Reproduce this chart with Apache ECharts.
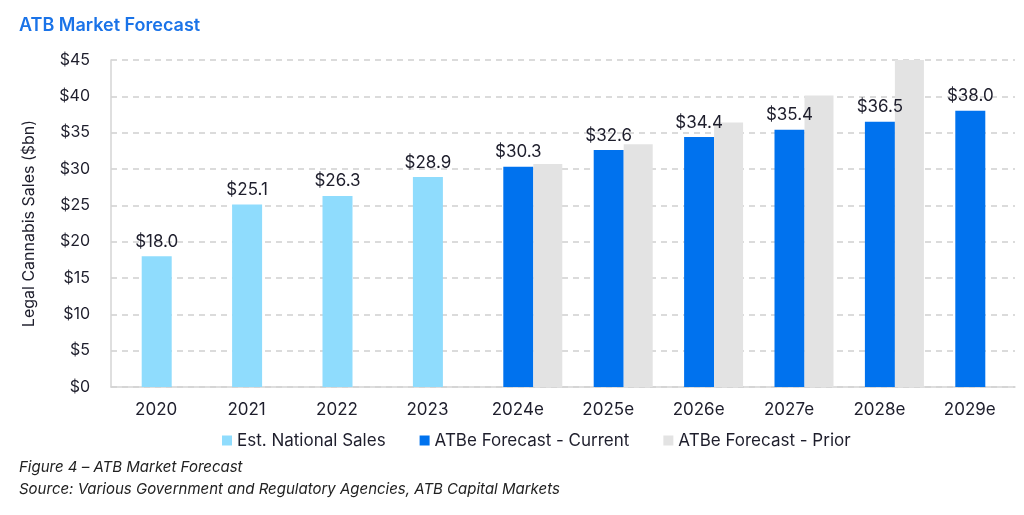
<!DOCTYPE html>
<html>
<head>
<meta charset="utf-8">
<script src="https://cdn.jsdelivr.net/npm/echarts@6/dist/echarts.min.js"></script>
<style>html,body{margin:0;padding:0;background:#fff}#c{width:1024px;height:515px}</style>
</head>
<body>
<div id="c"></div>
<script>
const categories = ['2020','2021','2022','2023','2024e','2025e','2026e','2027e','2028e','2029e'];
const estNational = [18.0, 25.1, 26.3, 28.9, null, null, null, null, null, null];
const forecastCurrent = [null, null, null, null, 30.3, 32.6, 34.4, 35.4, 36.5, 38.0];
const forecastPrior = [null, null, null, null, 30.7, 33.4, 36.4, 40.1, 45.3, null];
const yTicks = [0, 5, 10, 15, 20, 25, 30, 35, 40, 45];

const FONT = 'Inter, "Noto Sans", sans-serif';
const TXT = '#1e1e2c';
const chart = echarts.init(document.getElementById('c'), null, {renderer: 'canvas'});
const lbl = {show: true, position: 'top', distance: 6, color: TXT, fontSize: 17, fontFamily: FONT,
  formatter: p => (p.value == null ? '' : '$' + Number(p.value).toFixed(1))};
chart.setOption({
  animation: false,
  textStyle: {fontFamily: FONT},
  title: [
    {text: 'ATB Market Forecast', left: 14, top: 12, textStyle: {color: '#1a73e8', fontSize: 18, fontWeight: 600, fontFamily: FONT}},
    {text: 'Figure 4 – ATB Market Forecast', left: 14, top: 455, textStyle: {color: '#222', fontSize: 15, fontWeight: 'normal', fontStyle: 'italic', fontFamily: FONT}},
    {text: 'Source: Various Government and Regulatory Agencies, ATB Capital Markets', left: 14, top: 477, textStyle: {color: '#222', fontSize: 15, fontWeight: 'normal', fontStyle: 'italic', fontFamily: FONT}}
  ],
  legend: {
    data: ['Est. National Sales', 'ATBe Forecast - Current', 'ATBe Forecast - Prior'],
    left: 217, top: 427, itemWidth: 10, itemHeight: 10, itemGap: 34, icon: 'rect',
    textStyle: {color: TXT, fontSize: 17, fontFamily: FONT}
  },
  grid: {left: 111, right: 9, top: 60, bottom: 128, containLabel: false},
  xAxis: {
    type: 'category', data: categories,
    axisLine: {show: true, lineStyle: {color: '#d4d4d4', width: 1.5}},
    axisTick: {show: false},
    axisLabel: {color: TXT, fontSize: 17, margin: 14, fontFamily: FONT}
  },
  yAxis: {
    type: 'value', min: 0, max: 45, interval: 5,
    name: 'Legal Cannabis Sales ($bn)', nameLocation: 'middle', nameGap: 74, nameRotate: 90,
    nameTextStyle: {color: TXT, fontSize: 16, fontFamily: FONT},
    axisLine: {show: true, lineStyle: {color: '#d4d4d4', width: 1.5}},
    axisTick: {show: false},
    axisLabel: {color: TXT, fontSize: 16, margin: 21, fontFamily: FONT,
      formatter: v => (yTicks.indexOf(v) >= 0 ? '$' + v : '')},
    splitLine: {show: true, lineStyle: {color: '#cfcfcf', type: [6, 5], width: 1.5}}
  },
  series: [
    {name: 'spacer', type: 'bar', barWidth: 30, data: categories.map(() => null), silent: true, itemStyle: {color: 'transparent'}},
    {name: 'Est. National Sales', type: 'bar', stack: 'main', barWidth: 30, data: estNational,
      itemStyle: {color: '#8fdcfd'}, label: lbl},
    {name: 'ATBe Forecast - Current', type: 'bar', stack: 'main', barWidth: 30, data: forecastCurrent,
      itemStyle: {color: '#0072ee'}, label: lbl},
    {name: 'ATBe Forecast - Prior', type: 'bar', barWidth: 29, barGap: '0%', data: forecastPrior,
      itemStyle: {color: '#e3e3e3'}, clip: true}
  ]
});
</script>
</body>
</html>
